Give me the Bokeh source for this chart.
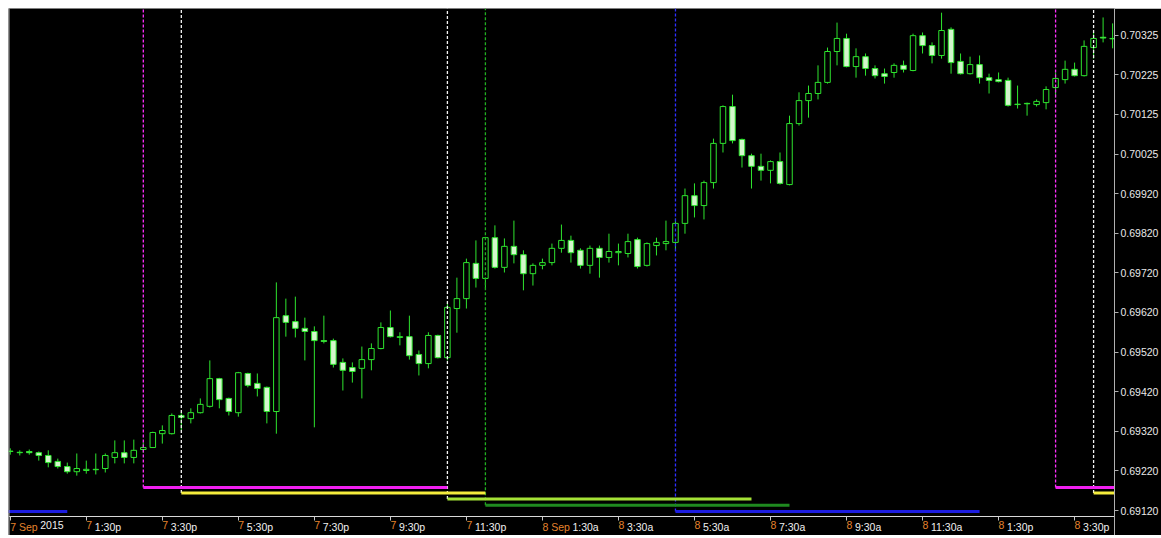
from bokeh.plotting import figure
from bokeh.models import ColumnDataSource, Range1d, FixedTicker, Label, Span, LinearAxis, Spacer
from bokeh.layouts import column, row
from bokeh.embed import file_html
from bokeh.resources import INLINE

# ---------------- data (15-minute bars, 7-8 Sep 2015) ----------------
opens = [0.69270, 0.69266, 0.69269, 0.69266, 0.69259, 0.69244, 0.69231, 0.69218, 0.69221, 0.69223,
         0.69226, 0.69254, 0.69266, 0.69254, 0.69274, 0.69279, 0.69314, 0.69314, 0.69360, 0.69352,
         0.69367, 0.69383, 0.69453, 0.69403, 0.69367, 0.69466, 0.69441, 0.69431, 0.69370, 0.69612,
         0.69597, 0.69580, 0.69572, 0.69549, 0.69549, 0.69494, 0.69481, 0.69479, 0.69501, 0.69529,
         0.69582, 0.69557, 0.69559, 0.69514, 0.69491, 0.69562, 0.69506, 0.69630, 0.69655, 0.69744,
         0.69706, 0.69809, 0.69734, 0.69787, 0.69766, 0.69718, 0.69739, 0.69746, 0.69782, 0.69802,
         0.69777, 0.69739, 0.69782, 0.69759, 0.69771, 0.69769, 0.69804, 0.69739, 0.69789, 0.69794,
         0.69797, 0.69845, 0.69915, 0.69890, 0.69948, 0.70047, 0.70140, 0.70057, 0.70016, 0.69989,
         0.69979, 0.70001, 0.69943, 0.70097, 0.70155, 0.70173, 0.70201, 0.70279, 0.70312, 0.70241,
         0.70266, 0.70236, 0.70223, 0.70226, 0.70244, 0.70231, 0.70319, 0.70294, 0.70269, 0.70335,
         0.70254, 0.70223, 0.70246, 0.70213, 0.70208, 0.70206, 0.70146, 0.70148, 0.70145, 0.70150,
         0.70188, 0.70208, 0.70234, 0.70218, 0.70289, 0.70315, 0.70312]
highs = [0.69277, 0.69272, 0.69274, 0.69269, 0.69272, 0.69251, 0.69241, 0.69264, 0.69246, 0.69264,
         0.69264, 0.69297, 0.69297, 0.69299, 0.69292, 0.69319, 0.69335, 0.69365, 0.69367, 0.69378,
         0.69403, 0.69499, 0.69455, 0.69405, 0.69470, 0.69468, 0.69466, 0.69433, 0.69696, 0.69655,
         0.69660, 0.69607, 0.69585, 0.69612, 0.69554, 0.69504, 0.69494, 0.69534, 0.69542, 0.69595,
         0.69625, 0.69570, 0.69612, 0.69524, 0.69570, 0.69564, 0.69643, 0.69708, 0.69756, 0.69802,
         0.69811, 0.69840, 0.69807, 0.69852, 0.69777, 0.69744, 0.69756, 0.69794, 0.69842, 0.69814,
         0.69782, 0.69789, 0.69789, 0.69819, 0.69794, 0.69819, 0.69809, 0.69797, 0.69809, 0.69852,
         0.69857, 0.69933, 0.69946, 0.69953, 0.70059, 0.70143, 0.70170, 0.70059, 0.70021, 0.70021,
         0.70004, 0.70024, 0.70117, 0.70176, 0.70193, 0.70244, 0.70289, 0.70352, 0.70324, 0.70287,
         0.70274, 0.70244, 0.70236, 0.70249, 0.70256, 0.70324, 0.70327, 0.70302, 0.70377, 0.70340,
         0.70274, 0.70266, 0.70269, 0.70223, 0.70226, 0.70213, 0.70193, 0.70150, 0.70158, 0.70191,
         0.70226, 0.70256, 0.70251, 0.70307, 0.70327, 0.70365, 0.70350]
lows = [0.69261, 0.69259, 0.69261, 0.69246, 0.69229, 0.69226, 0.69213, 0.69208, 0.69213, 0.69211,
        0.69216, 0.69239, 0.69239, 0.69239, 0.69266, 0.69279, 0.69289, 0.69312, 0.69322, 0.69340,
        0.69365, 0.69380, 0.69378, 0.69360, 0.69357, 0.69431, 0.69408, 0.69340, 0.69314, 0.69559,
        0.69557, 0.69499, 0.69330, 0.69542, 0.69481, 0.69423, 0.69443, 0.69403, 0.69474, 0.69527,
        0.69557, 0.69537, 0.69501, 0.69461, 0.69479, 0.69504, 0.69499, 0.69569, 0.69630, 0.69683,
        0.69681, 0.69731, 0.69721, 0.69744, 0.69676, 0.69688, 0.69729, 0.69739, 0.69771, 0.69746,
        0.69731, 0.69718, 0.69708, 0.69746, 0.69739, 0.69759, 0.69731, 0.69736, 0.69764, 0.69777,
        0.69777, 0.69819, 0.69860, 0.69855, 0.69933, 0.70024, 0.70047, 0.69986, 0.69933, 0.69953,
        0.69946, 0.69943, 0.69941, 0.70092, 0.70112, 0.70158, 0.70198, 0.70244, 0.70239, 0.70213,
        0.70218, 0.70211, 0.70198, 0.70213, 0.70226, 0.70229, 0.70274, 0.70249, 0.70261, 0.70223,
        0.70221, 0.70221, 0.70198, 0.70173, 0.70201, 0.70140, 0.70135, 0.70117, 0.70140, 0.70133,
        0.70163, 0.70198, 0.70216, 0.70216, 0.70261, 0.70302, 0.70287]
closes = [0.69269, 0.69267, 0.69266, 0.69259, 0.69241, 0.69231, 0.69218, 0.69226, 0.69224, 0.69224,
          0.69259, 0.69266, 0.69254, 0.69272, 0.69279, 0.69317, 0.69322, 0.69360, 0.69355, 0.69367,
          0.69388, 0.69453, 0.69400, 0.69370, 0.69468, 0.69436, 0.69428, 0.69370, 0.69607, 0.69595,
          0.69580, 0.69572, 0.69549, 0.69547, 0.69489, 0.69474, 0.69471, 0.69501, 0.69529, 0.69582,
          0.69559, 0.69559, 0.69511, 0.69491, 0.69562, 0.69506, 0.69633, 0.69655, 0.69746, 0.69706,
          0.69809, 0.69734, 0.69787, 0.69766, 0.69718, 0.69739, 0.69746, 0.69782, 0.69802, 0.69771,
          0.69739, 0.69782, 0.69759, 0.69774, 0.69774, 0.69799, 0.69736, 0.69794, 0.69797, 0.69799,
          0.69845, 0.69915, 0.69890, 0.69948, 0.70047, 0.70140, 0.70054, 0.70016, 0.69989, 0.69979,
          0.70001, 0.69946, 0.70097, 0.70155, 0.70173, 0.70201, 0.70279, 0.70312, 0.70241, 0.70266,
          0.70236, 0.70218, 0.70216, 0.70244, 0.70234, 0.70319, 0.70294, 0.70269, 0.70332, 0.70251,
          0.70223, 0.70246, 0.70213, 0.70206, 0.70203, 0.70143, 0.70145, 0.70147, 0.70153, 0.70183,
          0.70211, 0.70234, 0.70218, 0.70292, 0.70312, 0.70313, 0.70311]

# price axis ticks (uniformly spaced as in the terminal) and their printed labels
ytick_vals = [0.6912, 0.6922, 0.6932, 0.6942, 0.6952, 0.6962, 0.6972,
              0.6982, 0.6992, 0.7002, 0.7012, 0.7022, 0.7032]
ytick_labels = ["0.69120", "0.69220", "0.69320", "0.69420", "0.69520", "0.69620", "0.69720",
                "0.69820", "0.69920", "0.70025", "0.70125", "0.70225", "0.70325"]

# time axis: every 8th bar (2 hours); day part drawn orange, time part light
xtick_bars = [0, 8, 16, 24, 32, 40, 48, 56, 64, 72, 80, 88, 96, 104, 112]
xtick_day = ["7 Sep", "7", "7", "7", "7", "7", "7", "8 Sep", "8", "8", "8", "8", "8", "8", "8"]
xtick_time = ["2015", "1:30p", "3:30p", "5:30p", "7:30p", "9:30p", "11:30p",
              "1:30a", "3:30a", "5:30a", "7:30a", "9:30a", "11:30a", "1:30p", "3:30p"]

# trading-session markers: start bar, end bar, price level
sess_start = [-26, 14, 18, 46, 50, 70, 110, 114]
sess_end = [6, 46, 50, 78, 82, 102, 142, 146]
sess_level = [0.691175, 0.69178, 0.69164, 0.69149, 0.69133, 0.691175, 0.69178, 0.69164]
sess_color = ["#1c1ce0", "#f020f0", "#f4ec3c", "#a4e236", "#1f8a1f", "#1c1ce0", "#f020f0", "#f4ec3c"]
sess_vcolor = ["#3030ff", "#ff30ff", "#f4f4f4", "#f4f4f4", "#20b020", "#3030ff", "#ff30ff", "#f4f4f4"]

# ---------------- figure ----------------
x_start, x_end = -0.186, 116.2
y_start, y_end = 0.690569, 0.703876   # frame includes the time-scale strip at the bottom
time_axis_at = 0.691049                # price level where the time scale is drawn

p = figure(width=1153, height=527, output_backend="svg", toolbar_location=None,
           x_range=Range1d(x_start, x_end), y_range=Range1d(y_start, y_end),
           x_axis_location=None, y_axis_location="right",
           background_fill_color="black", border_fill_color="black",
           min_border_left=0, min_border_top=0, min_border_right=44, min_border_bottom=0)
p.outline_line_color = None
p.xgrid.visible = False
p.ygrid.visible = False

idx = list(range(len(opens)))
body_top = [max(o, c) for o, c in zip(opens, closes)]
body_bot = [min(o, c) for o, c in zip(opens, closes)]
fills = ["black" if c >= o else "#d4f6cc" for o, c in zip(opens, closes)]
src = ColumnDataSource(dict(x=idx, high=highs, low=lows, top=body_top, bottom=body_bot, fill=fills))

candle_green = "#2ee42e"
p.segment(x0="x", y0="low", x1="x", y1="high", source=src, line_color=candle_green, line_width=1)
p.vbar(x="x", width=0.58, top="top", bottom="bottom", source=src,
       fill_color="fill", line_color=candle_green, line_width=1)

# session markers
p.segment(x0=sess_start, y0=sess_level, x1=sess_start, y1=[y_end] * len(sess_start),
          line_color=sess_vcolor, line_width=1.3, line_dash="3 2")
p.segment(x0=sess_start, y0=sess_level, x1=sess_end, y1=sess_level,
          line_color=sess_color, line_width=3)

# left border
p.add_layout(Span(location=x_start, dimension="height", line_color="#a8a8a8", line_width=2))

# time scale (drawn inside the black frame, at a fixed price level)
xaxis = LinearAxis(fixed_location=time_axis_at, ticker=FixedTicker(ticks=xtick_bars),
                   major_label_overrides={b: "" for b in xtick_bars},
                   major_tick_out=4, major_tick_in=0, minor_tick_line_color=None,
                   axis_line_color="#d8d8d8", major_tick_line_color="#c8c8c8")
p.add_layout(xaxis, "below")

FONT = "Liberation Sans"
for b, d, t in zip(xtick_bars, xtick_day, xtick_time):
    day_w = 30.0 if "Sep" in d else 8.5
    p.add_layout(Label(x=b, y=time_axis_at, x_offset=0, y_offset=-5, text=d, text_baseline="top",
                       text_align="left", text_font=FONT, text_font_size="10.5px", text_color="#e4832c"))
    p.add_layout(Label(x=b, y=time_axis_at, x_offset=day_w, y_offset=-5, text=t, text_baseline="top",
                       text_align="left", text_font=FONT, text_font_size="10.5px", text_color="#f0f0f0"))

# price scale
p.yaxis.ticker = FixedTicker(ticks=ytick_vals)
p.yaxis.major_label_overrides = {v: s for v, s in zip(ytick_vals, ytick_labels)}
p.yaxis.major_tick_out = 4
p.yaxis.major_tick_in = 0
p.yaxis.major_label_standoff = 2
p.yaxis.minor_tick_line_color = None
p.yaxis.axis_line_color = "#b0b0b0"
p.yaxis.major_tick_line_color = "#b0b0b0"
p.yaxis.major_label_text_font = FONT
p.yaxis.major_label_text_font_size = "10.5px"
p.yaxis.major_label_text_color = "#e8e8e8"

layout = column(Spacer(height=8), row(Spacer(width=8), p))
open("out.html", "w").write(file_html(layout, INLINE))
